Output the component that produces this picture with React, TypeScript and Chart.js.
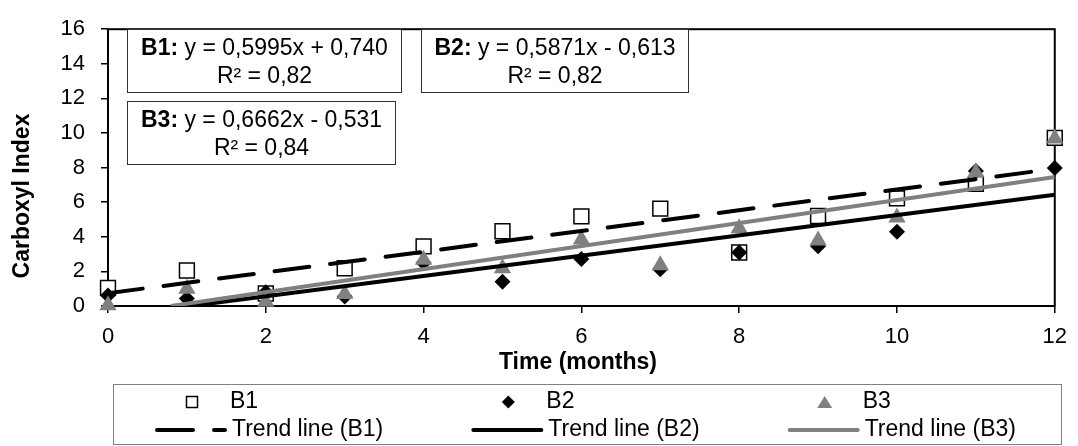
import React, { useEffect, useRef } from 'react';
import { Chart, registerables } from 'chart.js';

Chart.register(...registerables);

// ---- data ----
const months = [0, 1, 2, 3, 4, 5, 6, 7, 8, 9, 10, 11, 12];
const seriesB1 = [1.05, 2.05, 0.72, 2.18, 3.45, 4.32, 5.18, 5.63, 3.09, 5.2, 6.22, 7.06, 9.72];
const seriesB2 = [0.61, 0.44, 0.8, 0.55, 2.5, 1.4, 2.72, 2.13, 3.09, 3.46, 4.29, 7.8, 7.98];
const seriesB3 = [0.05, 1.0, 0.25, 0.7, 2.68, 2.18, 3.85, 2.36, 4.5, 3.78, 5.12, 7.72, 9.68];
const trendB1X = [0, 12];
const trendB1Y = [0.74, 7.934];
const trendB2X = [1.044, 12];
const trendB2Y = [0, 6.432];
const trendB3X = [0.797, 12];
const trendB3Y = [0, 7.463];
const seriesNames = ['B1', 'B2', 'B3'];
const trendNames = ['Trend line (B1)', 'Trend line (B2)', 'Trend line (B3)'];
const eqLabels = ['B1:', 'B2:', 'B3:'];
const eqTexts = [' y = 0,5995x + 0,740', ' y = 0,5871x - 0,613', ' y = 0,6662x - 0,531'];
const r2Texts = ['R² = 0,82', 'R² = 0,82', 'R² = 0,84'];
const xTitle = 'Time (months)';
const yTitle = 'Carboxyl Index';

const FONT = '"Liberation Sans", Arial, Helvetica, sans-serif';
const GRAY = '#808080';

const pts = (xs: number[], ys: number[]) => xs.map((x, i) => ({ x, y: ys[i] }));

const overlayPlugin = {
  id: 'overlay',
  beforeDatasetsDraw(chart: any) {
    const { ctx, chartArea: a } = chart;
    ctx.save();
    ctx.strokeStyle = '#000';
    ctx.lineWidth = 2;
    ctx.strokeRect(a.left, a.top, a.right - a.left, a.bottom - a.top);
    ctx.restore();
  },
  afterDraw(chart: any) {
    const { ctx } = chart;
    ctx.save();
    // equation boxes
    const boxes = [
      { x: 127, y: 29, w: 275, h: 64 },
      { x: 421, y: 29, w: 268, h: 64 },
      { x: 127, y: 101, w: 269, h: 64 },
    ];
    boxes.forEach((b, i) => {
      ctx.fillStyle = '#fff';
      ctx.fillRect(b.x, b.y, b.w, b.h);
      ctx.strokeStyle = '#333';
      ctx.lineWidth = 1;
      ctx.strokeRect(b.x + 0.5, b.y + 0.5, b.w - 1, b.h - 1);
      ctx.fillStyle = '#000';
      ctx.textBaseline = 'middle';
      ctx.font = `bold 23px ${FONT}`;
      const wl = ctx.measureText(eqLabels[i]).width;
      ctx.font = `23px ${FONT}`;
      const wt = ctx.measureText(eqTexts[i]).width;
      const cx = b.x + b.w / 2;
      const sx = cx - (wl + wt) / 2;
      ctx.textAlign = 'left';
      ctx.font = `bold 23px ${FONT}`;
      ctx.fillText(eqLabels[i], sx, b.y + 19.5);
      ctx.font = `23px ${FONT}`;
      ctx.fillText(eqTexts[i], sx + wl, b.y + 19.5);
      ctx.textAlign = 'center';
      ctx.fillText(r2Texts[i], cx, b.y + 47.5);
    });

    // axis titles
    ctx.fillStyle = '#000';
    ctx.font = `bold 23px ${FONT}`;
    ctx.textAlign = 'center';
    ctx.textBaseline = 'middle';
    ctx.fillText(xTitle, 578, 363);
    ctx.save();
    ctx.translate(23, 196);
    ctx.rotate(-Math.PI / 2);
    ctx.fillText(yTitle, 0, 0);
    ctx.restore();

    // legend
    const L = 113, T = 384, W = 949, H = 61;
    ctx.fillStyle = '#fff';
    ctx.fillRect(L, T, W, H);
    ctx.strokeStyle = GRAY;
    ctx.lineWidth = 1;
    ctx.strokeRect(L + 0.5, T + 0.5, W - 1, H - 1);
    const colW = W / 3;
    const r1 = 402, r2 = 430;
    for (let i = 0; i < 3; i++) {
      const c0 = L + colW * i;
      const mx = c0 + 79;
      ctx.beginPath();
      if (i === 0) {
        ctx.fillStyle = '#fff';
        ctx.strokeStyle = '#000';
        ctx.lineWidth = 1.5;
        ctx.rect(mx - 5.5, r1 - 5.5, 11, 11);
        ctx.fill();
        ctx.stroke();
      } else if (i === 1) {
        ctx.fillStyle = '#000';
        ctx.moveTo(mx, r1 - 6.5);
        ctx.lineTo(mx + 6.5, r1);
        ctx.lineTo(mx, r1 + 6.5);
        ctx.lineTo(mx - 6.5, r1);
        ctx.closePath();
        ctx.fill();
      } else {
        ctx.fillStyle = GRAY;
        ctx.moveTo(mx, r1 - 6);
        ctx.lineTo(mx + 7.5, r1 + 6);
        ctx.lineTo(mx - 7.5, r1 + 6);
        ctx.closePath();
        ctx.fill();
      }
      ctx.fillStyle = '#000';
      ctx.font = `23px ${FONT}`;
      ctx.textAlign = 'left';
      ctx.textBaseline = 'middle';
      ctx.fillText(seriesNames[i], c0 + 117, r1);
      ctx.beginPath();
      ctx.lineWidth = 4;
      ctx.strokeStyle = i === 2 ? GRAY : '#000';
      ctx.lineCap = 'round';
      ctx.setLineDash(i === 0 ? [36, 21] : []);
      ctx.moveTo(c0 + 44, r2);
      ctx.lineTo(c0 + 112, r2);
      ctx.stroke();
      ctx.setLineDash([]);
      ctx.fillText(trendNames[i], c0 + 119, r2);
    }
    ctx.restore();
  },
};

export default function App() {
  const ref = useRef<HTMLCanvasElement | null>(null);
  useEffect(() => {
    document.body.style.margin = '0';
    if (!ref.current) return;
    const tickFont = { family: FONT, size: 22 };
    const chart = new Chart(ref.current, {
      type: 'scatter',
      data: {
        datasets: [
          {
            label: trendNames[2], data: pts(trendB3X, trendB3Y), showLine: true,
            borderColor: GRAY, borderWidth: 4, pointRadius: 0, order: 0,
          },
          {
            label: trendNames[1], data: pts(trendB2X, trendB2Y), showLine: true,
            borderColor: '#000', borderWidth: 4, pointRadius: 0, order: 1,
          },
          {
            label: trendNames[0], data: pts(trendB1X, trendB1Y), showLine: true,
            borderColor: '#000', borderWidth: 4, pointRadius: 0, order: 2,
            borderDash: [35, 21], borderCapStyle: 'round',
          },
          {
            label: seriesNames[2], data: pts(months, seriesB3), pointStyle: 'triangle',
            pointRadius: 10, backgroundColor: GRAY, borderColor: GRAY, borderWidth: 0,
            order: 3, clip: false,
          },
          {
            label: seriesNames[1], data: pts(months, seriesB2), pointStyle: 'rectRot',
            pointRadius: 8, backgroundColor: '#000', borderColor: '#000', borderWidth: 0,
            order: 4, clip: false,
          },
          {
            label: seriesNames[0], data: pts(months, seriesB1), pointStyle: 'rect',
            pointRadius: 10.5, backgroundColor: '#fff', borderColor: '#000', borderWidth: 1.5,
            order: 5, clip: false,
          },
        ] as any,
      },
      options: {
        responsive: false,
        animation: false,
        events: [],
        layout: { padding: { left: 0, top: 16, right: 18, bottom: 62 } },
        plugins: { legend: { display: false }, tooltip: { enabled: false }, title: { display: false } },
        scales: {
          x: {
            type: 'linear', min: 0, max: 12,
            ticks: { stepSize: 2, color: '#000', font: tickFont, padding: 11, maxRotation: 0 },
            grid: { display: true, drawOnChartArea: false, drawTicks: true, tickLength: 7, color: '#000', lineWidth: 1.5 },
            border: { display: false },
            afterFit: (s: any) => { s.height = 78; },
          },
          y: {
            type: 'linear', min: 0, max: 16,
            ticks: { stepSize: 2, color: '#000', font: tickFont, padding: 16 },
            grid: { display: true, drawOnChartArea: false, drawTicks: true, tickLength: 7, color: '#000', lineWidth: 1.5 },
            border: { display: false },
            afterFit: (s: any) => { s.width = 108; },
          },
        },
      } as any,
      plugins: [overlayPlugin],
    });
    return () => chart.destroy();
  }, []);
  return (
    <div style={{ width: 1078, height: 446 }}>
      <canvas ref={ref} width={1078} height={446} style={{ display: 'block' }} />
    </div>
  );
}
